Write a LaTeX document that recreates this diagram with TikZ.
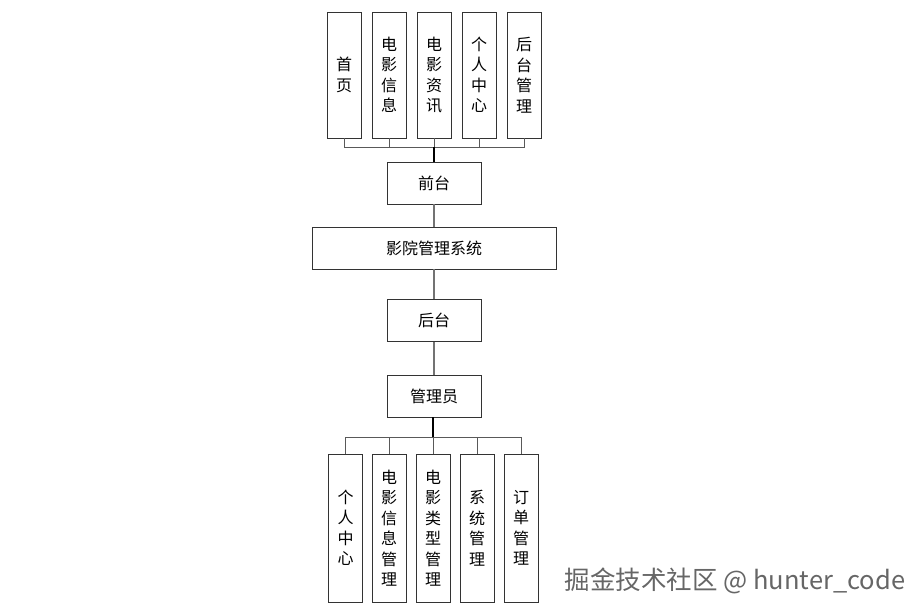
\documentclass[tikz,border=0pt]{standalone}
\usepackage{fontspec}
\newfontfamily\cjk{Noto Sans CJK SC}
\begin{document}
\begin{tikzpicture}[x=1pt,y=-1pt,
  box/.style={draw=black!80, line width=0.9pt, fill=white, inner sep=0pt,
    font=\cjk\fontsize{16}{20.5}\selectfont, align=center},
  tallA/.style={box, minimum width=34pt, minimum height=126pt},
  tallB/.style={box, minimum width=34pt, minimum height=148pt},
  mid/.style={box, minimum width=94pt, minimum height=42pt},
  bus/.style={draw=black!65, line width=0.9pt},
  trunk/.style={draw=black, line width=1.8pt},
  link/.style={draw=black!55, line width=1.4pt},
  wm/.style={font=\cjk\fontsize{25.5}{28}\selectfont, text=black!60}]
\useasboundingbox (0,0) rectangle (922,614);
% top modules
\node[tallA] (t1) at (344,75) {首\\页};
\node[tallA] (t2) at (389,75) {电\\影\\信\\息};
\node[tallA] (t3) at (434,75) {电\\影\\资\\讯};
\node[tallA] (t4) at (479,75) {个\\人\\中\\心};
\node[tallA] (t5) at (524,75) {后\\台\\管\\理};
% middle chain
\node[mid] (qt) at (434,183) {前台};
\node[box, minimum width=244pt, minimum height=42pt] (sys) at (434,248) {影院管理系统};
\node[mid] (ht) at (434,320.5) {后台};
\node[mid] (gly) at (434,396) {管理员};
% bottom modules
\node[tallB] (b1) at (345.5,528) {个\\人\\中\\心};
\node[tallB] (b2) at (389,528) {电\\影\\信\\息\\管\\理};
\node[tallB] (b3) at (433,528) {电\\影\\类\\型\\管\\理};
\node[tallB] (b4) at (477,528) {系\\统\\管\\理};
\node[tallB] (b5) at (521,528) {订\\单\\管\\理};
% top bus
\coordinate (tb) at (434,147);
\foreach \i in {1,...,5} { \draw[bus] (t\i.south) |- (tb); }
\draw[trunk] (tb) -- (qt.north);
% chain links
\draw[link] (qt.south) -- (sys.north);
\draw[link] (sys.south) -- (ht.north);
\draw[link] (ht.south) -- (gly.north);
% bottom bus
\coordinate (bb) at (433,437);
\foreach \i in {1,...,5} { \draw[bus] (b\i.north) |- (bb); }
\draw[trunk] (gly.south -| bb) -- (bb);
% watermark
\node[wm, anchor=center] (wmk) at (735,581) {掘金技术社区 @ hunter\_code};
\end{tikzpicture}
\end{document}
